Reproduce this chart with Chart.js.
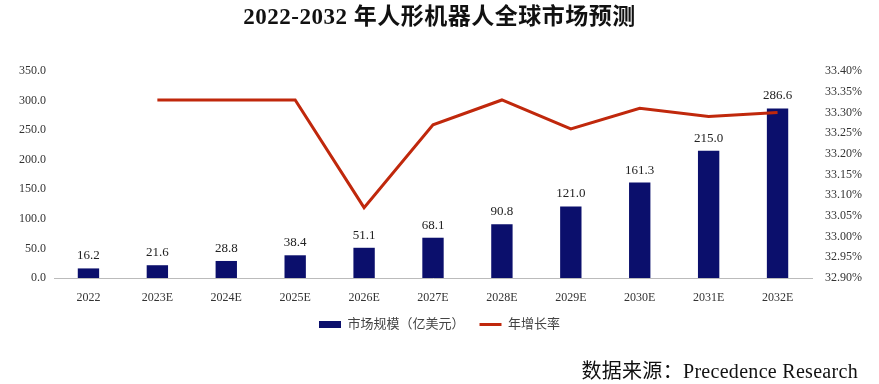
<!DOCTYPE html>
<html lang="zh">
<head>
<meta charset="UTF-8">
<title>2022-2032 年人形机器人全球市场预测</title>
<style>
  body { margin: 0; background: #fff; }
  .wrap { position: relative; width: 879px; height: 384px; overflow: hidden; }
  h1 { position: absolute; left: 0; right: 0; top: -3px; margin: 0; text-align: center;
       font: bold 23px "Liberation Serif", "Noto Sans CJK SC", serif; color: #111; letter-spacing: 0.5px; }
  #chartBox { position: absolute; left: 0; top: 0; width: 879px; height: 384px; }
  .source { position: absolute; right: 21px; top: 355px;
            font: 20px "Liberation Serif", "Noto Sans CJK SC", serif; color: #111; letter-spacing: 0.3px; }
</style>
<script src="https://cdn.jsdelivr.net/npm/chart.js"></script>
</head>
<body>
<div class="wrap">
  <div id="chartBox"><canvas id="chart"></canvas></div>
  <h1>2022-2032 年人形机器人全球市场预测</h1>
  <div class="source">数据来源：Precedence Research</div>
</div>
<script>
  // categories and values
  const years = ['2022', '2023E', '2024E', '2025E', '2026E', '2027E', '2028E', '2029E', '2030E', '2031E', '2032E'];
  const marketSize = [16.2, 21.6, 28.8, 38.4, 51.1, 68.1, 90.8, 121.0, 161.3, 215.0, 286.6];
  const growthRate = [null, 33.33, 33.33, 33.33, 33.07, 33.27, 33.33, 33.26, 33.31, 33.29, 33.30];

  const serif = '"Liberation Serif", "Noto Sans CJK SC", serif';

  // labels on top of the bars
  const barLabels = {
    id: 'barLabels',
    afterDatasetsDraw(chart) {
      const ctx = chart.ctx;
      const meta = chart.getDatasetMeta(1);
      ctx.save();
      ctx.font = '13px ' + serif;
      ctx.fillStyle = '#222';
      ctx.textAlign = 'center';
      ctx.textBaseline = 'bottom';
      meta.data.forEach((bar, i) => {
        ctx.fillText(marketSize[i].toFixed(1), bar.x, bar.y - 6);
      });
      ctx.restore();
    }
  };

  new Chart(document.getElementById('chart'), {
    data: {
      labels: years,
      datasets: [
        {
          type: 'line',
          label: '年增长率',
          data: growthRate,
          yAxisID: 'y2',
          borderColor: '#c0280c',
          backgroundColor: '#c0280c',
          borderWidth: 3,
          pointRadius: 0,
          pointStyle: 'line',
          tension: 0,
          order: 0
        },
        {
          type: 'bar',
          label: '市场规模（亿美元）',
          data: marketSize,
          yAxisID: 'y',
          backgroundColor: '#0b0f6c',
          pointStyle: 'rect',
          barPercentage: 0.31,
          categoryPercentage: 1,
          order: 1
        }
      ]
    },
    options: {
      responsive: true,
      maintainAspectRatio: false,
      animation: false,
      layout: { padding: { top: 71, bottom: 43, left: 0, right: 0 } },
      plugins: {
        title: { display: false },
        tooltip: { enabled: false },
        legend: {
          position: 'bottom',
          reverse: true,
          labels: {
            usePointStyle: true,
            pointStyleWidth: 22,
            boxHeight: 7,
            padding: 15,
            color: '#444',
            font: { family: serif, size: 13 }
          }
        }
      },
      scales: {
        x: {
          grid: { display: false, drawTicks: false },
          border: { display: true, color: '#bbb', width: 1 },
          ticks: { color: '#333', font: { family: serif, size: 12 }, padding: 13 },
          afterFit(scale) { scale.height = 25; }
        },
        y: {
          position: 'left',
          min: 0, max: 350,
          grid: { display: false, drawTicks: false },
          border: { display: false },
          ticks: {
            stepSize: 50,
            color: '#333',
            font: { family: serif, size: 12 },
            padding: 8,
            callback: v => v.toFixed(1)
          },
          afterFit(scale) { scale.width = 54; }
        },
        y2: {
          position: 'right',
          min: 32.9, max: 33.4,
          grid: { display: false, drawTicks: false },
          border: { display: false },
          ticks: {
            stepSize: 0.05,
            color: '#333',
            font: { family: serif, size: 12 },
            padding: 13,
            callback: v => v.toFixed(2) + '%'
          },
          afterFit(scale) { scale.width = 67; }
        }
      }
    },
    plugins: [barLabels]
  });
</script>
</body>
</html>
